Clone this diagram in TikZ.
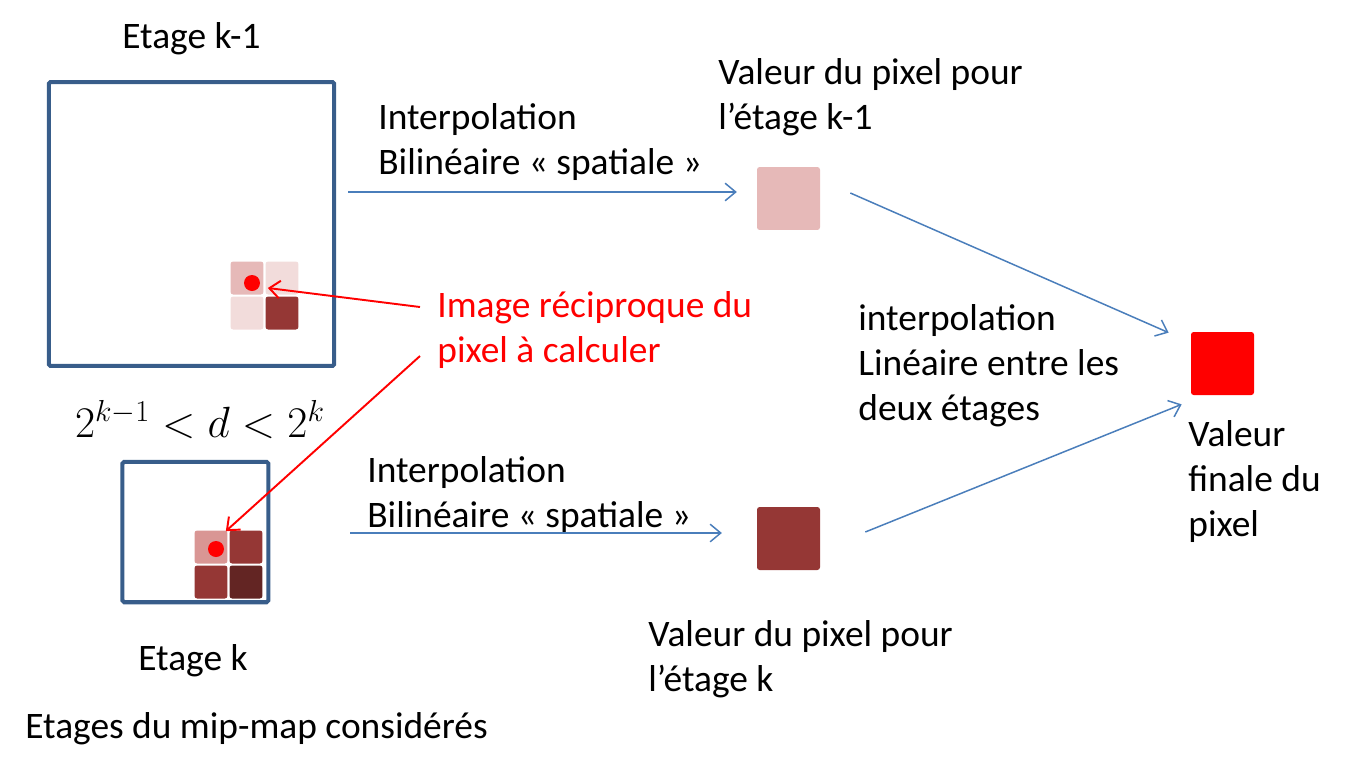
\documentclass[tikz,border=0pt]{standalone}
\usepackage{fontspec}
\setmainfont{Carlito}
\usetikzlibrary{arrows.meta}

\definecolor{boxblue}{HTML}{385D8A}
\definecolor{flowblue}{HTML}{4A7EBB}
\definecolor{pinkA}{HTML}{F2DCDB}
\definecolor{pinkB}{HTML}{E6B9B8}
\definecolor{pinkC}{HTML}{D99694}
\definecolor{redA}{HTML}{953735}
\definecolor{redB}{HTML}{632523}

\begin{document}
\begin{tikzpicture}[x=0.02cm, y=-0.02cm,
    txt/.style={anchor=base west, align=left, inner sep=0pt, font=\fontsize{21.3}{25.5}\selectfont},
    stage/.style={draw=boxblue, line width=2.3pt, rounded corners=1pt, inner sep=0pt},
    cell/.style={rounded corners=1.5pt, minimum size=0.66cm, inner sep=0pt},
    pix/.style={rounded corners=1.5pt, minimum size=1.26cm, inner sep=0pt},
    dot/.style={circle, fill=red, minimum size=0.32cm, inner sep=0pt},
    flow/.style={draw=flowblue, line width=0.85pt, -{Straight Barb[length=6pt,width=10pt]}},
    link/.style={draw=red, line width=1.1pt, -{Straight Barb[length=6pt,width=10pt]}}]
    \useasboundingbox (0, 0) rectangle (1370, 758);

    % Stage k-1
    \node[stage, minimum width=5.71cm, minimum height=5.68cm] (stk1) at (191.5, 224) {};
    \node[txt] (lk1) at (122, 48) {Etage k-1};
    \begin{scope}[shift={(247, 278)}]
        \node[cell, fill=pinkB] (c11) at (0, 0) {};
        \node[cell, fill=pinkA] (c12) at (35, 0) {};
        \node[cell, fill=pinkA] (c21) at (0, 35) {};
        \node[cell, fill=redA] (c22) at (35, 35) {};
        \node[dot] (p1) at (5, 5) {};
    \end{scope}

    % Condition on d
    \node[anchor=base, inner sep=0pt, font=\fontsize{24.7}{30}\selectfont] (cond) at (200, 437) {$2^{k-1} < d < 2^k$};

    % Stage k
    \node[stage, minimum width=2.92cm, minimum height=2.81cm] (stk) at (195.4, 532) {};
    \node[txt] (lk) at (138, 670) {Etage k};
    \begin{scope}[shift={(211, 547)}]
        \node[cell, fill=pinkC] (d11) at (0, 0) {};
        \node[cell, fill=redA] (d12) at (35, 0) {};
        \node[cell, fill=redA] (d21) at (0, 35) {};
        \node[cell, fill=redB] (d22) at (35, 35) {};
        \node[dot] (p2) at (5, 2) {};
    \end{scope}
    \node[txt] (lall) at (25, 738) {Etages du mip-map considérés};

    % Spatial interpolation (last baseline given)
    \node[txt] (ik1) at (378, 174) {Interpolation\\Bilinéaire « spatiale »};
    \node[txt] (ik) at (367, 527) {Interpolation\\Bilinéaire « spatiale »};
    \node[pix, fill=pinkB] (pk1) at (788.5, 198.5) {};
    \node[pix, fill=redA] (pk) at (788.5, 538.5) {};
    \node[txt] (vk1) at (718, 129) {Valeur du pixel pour\\l’étage k-1};
    \node[txt] (vk) at (648, 691) {Valeur du pixel pour\\l’étage k};
    \coordinate (h1) at (348, 192);
    \coordinate (h2) at (350, 533);
    \draw[flow, shorten >=11.3pt] (h1) -- (h1 -| pk1.west);
    \draw[flow, shorten >=19.8pt] (h2) -- (h2 -| pk.west);

    % Linear interpolation
    \node[txt] (lin) at (858, 420) {interpolation\\Linéaire entre les\\deux étages};
    \node[pix, fill=red] (fin) at (1222.5, 363.5) {};
    \node[txt] (vfin) at (1188, 536) {Valeur\\finale du\\pixel};
    \draw[flow] ([shift={(30, -5.5)}]pk1.east) -- ([shift={(-22, 1)}]fin.north west);
    \draw[flow] ([shift={(45, -6.5)}]pk.east) -- ([shift={(-9, 9)}]fin.south west);

    % Reciprocal image
    \node[txt, text=red] (img) at (437, 362) {Image réciproque du\\pixel à calculer};
    \draw[link] ([shift={(-17, -55)}]img.base west) -- ([shift={(4, 10)}]c11.east);
    \draw[link] ([shift={(-17, -6)}]img.base west) -- ([shift={(-2, 1)}]d11.north east);
\end{tikzpicture}
\end{document}
